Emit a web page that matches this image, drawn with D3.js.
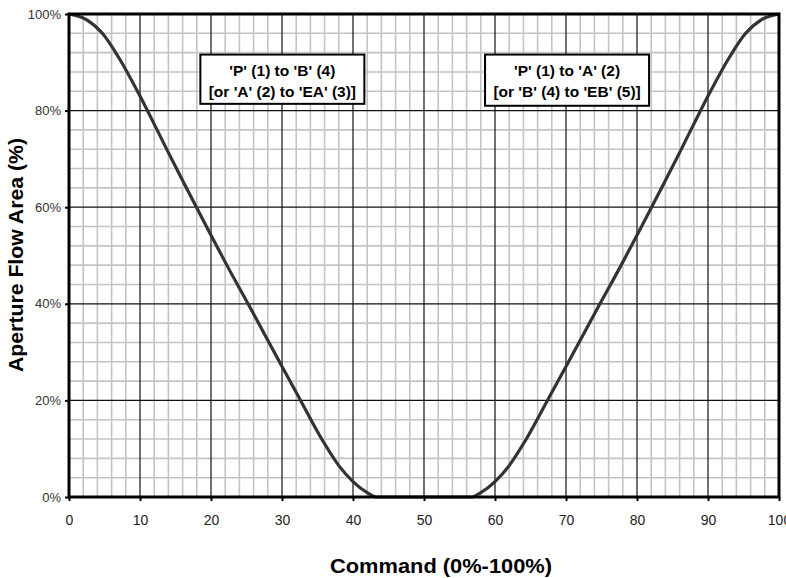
<!DOCTYPE html>
<html>
<head>
<meta charset="utf-8">
<script src="https://cdn.jsdelivr.net/npm/d3@7"></script>
<style>
  body { margin: 0; background: #fff; }
  svg { display: block; }
</style>
</head>
<body>
<div id="chart"></div>
<script>
// curve: command (%) vs aperture flow area (%)
const command = [0, 2.5, 4.7, 7, 10, 12, 14, 16.4, 18.3, 20, 22.3, 25.3, 30, 32.5, 35.8, 38, 40, 42, 43.3,
                 50,
                 56.7, 58, 60, 62, 64.2, 67.5, 70, 74.7, 77.7, 80, 81.7, 83.6, 86, 88, 90, 93, 95.3, 97.5, 100]
const flowArea = [100, 98.8, 96, 91, 83, 77.2, 71.3, 64.4, 59, 54.2, 47.8, 39.8, 27, 20.3, 11.5, 6.5, 3.2, 0.9, 0,
                  0,
                  0, 0.9, 3.2, 6.5, 11.5, 20.3, 27, 39.8, 47.8, 54.2, 59, 64.4, 71.3, 77.2, 83, 91, 96, 98.8, 100]

// tick labels
const xTicks = [0, 10, 20, 30, 40, 50, 60, 70, 80, 90, 100]
const yTicks = [0, 20, 40, 60, 80, 100]

// the two annotation boxes
const boxLines = [
  ["'P' (1) to 'B' (4)", "[or 'A' (2) to 'EA' (3)]"],
  ["'P' (1) to 'A' (2)", "[or 'B' (4) to 'EB' (5)]"]
]

const width = 786
const height = 578
const margin = {left: 69, top: 14, right: 7, bottom: 81}
const innerW = width - margin.left - margin.right
const innerH = height - margin.top - margin.bottom

const xScale = d3.scaleLinear().domain([0, 100]).range([0, innerW])
const yScale = d3.scaleLinear().domain([0, 100]).range([innerH, 0])

const svg = d3.select('#chart').append('svg').attr('width', width).attr('height', height)
const g = svg.append('g').attr('transform', `translate(${margin.left},${margin.top})`)

//minor grid first, every 2 on x and every 4% on y
const minorX = d3.range(2, 100, 2).filter(d => d % 10 !== 0)
const minorY = d3.range(4, 100, 4).filter(d => d % 20 !== 0)
g.selectAll('.minor-x').data(minorX).enter().append('line')
  .attr('x1', d => xScale(d)).attr('x2', d => xScale(d))
  .attr('y1', 0).attr('y2', innerH)
  .attr('stroke', '#c4c4c4').attr('stroke-width', 1.6)
g.selectAll('.minor-y').data(minorY).enter().append('line')
  .attr('y1', d => yScale(d)).attr('y2', d => yScale(d))
  .attr('x1', 0).attr('x2', innerW)
  .attr('stroke', '#c4c4c4').attr('stroke-width', 1.6)

// major grid
g.selectAll('.major-x').data(xTicks.slice(1, -1)).enter().append('line')
  .attr('x1', d => xScale(d)).attr('x2', d => xScale(d))
  .attr('y1', 0).attr('y2', innerH)
  .attr('stroke', '#111').attr('stroke-width', 1.2)
g.selectAll('.major-y').data(yTicks.slice(1, -1)).enter().append('line')
  .attr('y1', d => yScale(d)).attr('y2', d => yScale(d))
  .attr('x1', 0).attr('x2', innerW)
  .attr('stroke', '#111').attr('stroke-width', 1.2)

// axes
const xAxis = d3.axisBottom(xScale).tickValues(xTicks).tickSize(4).tickPadding(14)
const yAxis = d3.axisLeft(yScale).tickValues(yTicks).tickSize(4).tickPadding(4).tickFormat(d => d + '%')
const gx = g.append('g').attr('transform', `translate(0,${innerH})`).call(xAxis)
const gy = g.append('g').call(yAxis)
gx.select('.domain').remove()
gy.select('.domain').remove()
gx.selectAll('line').attr('stroke', '#000').attr('stroke-width', 2)
gy.selectAll('line').attr('stroke', '#000').attr('stroke-width', 2)
gx.selectAll('text').attr('font-family', 'Liberation Sans, Arial, sans-serif').attr('font-size', 14).attr('fill', '#222')
gy.selectAll('text').attr('font-family', 'Liberation Sans, Arial, sans-serif').attr('font-size', 13).attr('fill', '#333')

// the curve
const line = d3.line()
  .x((d, i) => xScale(command[i]))
  .y((d, i) => yScale(flowArea[i]))
  .curve(d3.curveMonotoneX)
g.append('path')
  .datum(command)
  .attr('d', line)
  .attr('fill', 'none')
  .attr('stroke', '#333')
  .attr('stroke-width', 3.2)

// frame
g.append('rect')
  .attr('x', 0).attr('y', 0).attr('width', innerW).attr('height', innerH)
  .attr('fill', 'none').attr('stroke', '#000').attr('stroke-width', 3)

// annotation boxes (placed in data units)
const boxes = [
  {x0: 18.5, x1: 41.6, y0: 91.6, y1: 81.4},
  {x0: 58.6, x1: 81.7, y0: 91.6, y1: 81.0}
]
boxes.forEach((b, i) => {
  const bx = xScale(b.x0), by = yScale(b.y0)
  const bw = xScale(b.x1) - bx, bh = yScale(b.y1) - by
  g.append('rect')
    .attr('x', bx).attr('y', by).attr('width', bw).attr('height', bh)
    .attr('fill', '#fff').attr('stroke', '#000').attr('stroke-width', 2)
  boxLines[i].forEach((t, j) => {
    g.append('text')
      .attr('x', bx + bw / 2)
      .attr('y', by + 21 + j * 21)
      .attr('text-anchor', 'middle')
      .attr('font-family', 'Liberation Sans, Arial, sans-serif')
      .attr('font-weight', 'bold')
      .attr('font-size', 15.5)
      .attr('fill', '#000')
      .text(t)
  })
})

// axis titles, squeezed to the narrow bold face of the original
const titleFont = 'Liberation Sans, Arial, sans-serif'
svg.append('text')
  .attr('x', 441)
  .attr('y', 573)
  .attr('text-anchor', 'middle')
  .attr('font-family', titleFont)
  .attr('font-weight', 'bold')
  .attr('font-size', 20.5)
  .attr('textLength', 222)
  .attr('lengthAdjust', 'spacingAndGlyphs')
  .attr('fill', '#000')
  .text('Command (0%-100%)')
svg.append('text')
  .attr('transform', 'translate(23,255) rotate(-90)')
  .attr('text-anchor', 'middle')
  .attr('font-family', titleFont)
  .attr('font-weight', 'bold')
  .attr('font-size', 20)
  .attr('textLength', 234)
  .attr('lengthAdjust', 'spacingAndGlyphs')
  .attr('fill', '#000')
  .text('Aperture Flow Area (%)')
</script>
</body>
</html>
